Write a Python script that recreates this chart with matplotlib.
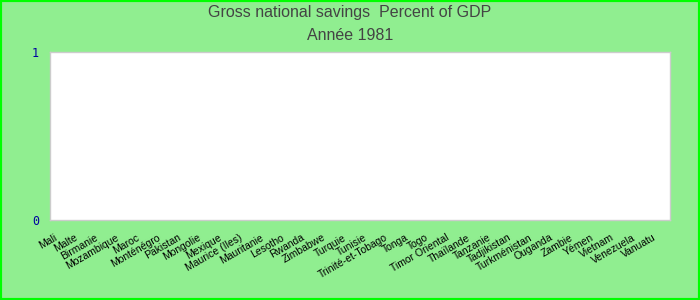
import numpy as np
import matplotlib
matplotlib.use("Agg")
import matplotlib.pyplot as plt
from matplotlib.transforms import ScaledTranslation

plt.rcParams['font.family'] = ['Liberation Sans', 'DejaVu Sans']

countries = ["Mali", "Malte", "Birmanie", "Mozambique", "Maroc", "Monténégro",
             "Pakistan", "Mongolie", "Mexique", "Maurice (Iles)", "Mauritanie",
             "Lesotho", "Rwanda", "Zimbabwe", "Turquie", "Tunisie",
             "Trinité-et-Tobago", "Tonga", "Togo", "Timor Oriental", "Thaïlande",
             "Tanzanie", "Tadjikistan", "Turkménistan", "Ouganda", "Zambie",
             "Yémen", "Vietnam", "Venezuela", "Vanuatu"]
# no values reported for 1981
savings = [None, None, None, None, None, None, None, None, None, None,
           None, None, None, None, None, None, None, None, None, None,
           None, None, None, None, None, None, None, None, None, None]
y_ticks = [0, 1]

vals = np.array([np.nan if v is None else v for v in savings], dtype=float)
x = np.arange(len(countries))

fig = plt.figure(figsize=(7, 3), dpi=100, facecolor="#90EE90")
ax = fig.add_axes([50 / 700, 1 - 220 / 300, 620 / 700, 168 / 300])
ax.set_facecolor("white")

ax.bar(x, vals, width=0.6, color="#4572A7")

ax.set_xlim(-0.5, len(countries) - 0.5)
ax.set_ylim(0, 1)
ax.set_yticks(y_ticks)
ax.set_yticklabels([str(t) for t in y_ticks], color="#0000A0", fontsize=8.5,
                   family=["DejaVu Sans Mono", "DejaVu Sans"])
ax.set_xticks(x)
ax.set_xticklabels(countries, rotation=30, ha="right", va="top",
                   rotation_mode="anchor", fontsize=7.5, color="black")
ax.tick_params(axis="both", length=0)
ax.tick_params(axis="x", pad=9)
ax.tick_params(axis="y", pad=8)

offset = ScaledTranslation(-7 / 100, 0, fig.dpi_scale_trans)
for lbl in ax.get_xticklabels():
    lbl.set_transform(lbl.get_transform() + offset)

for s in ax.spines.values():
    s.set_color("#cccccc")
    s.set_linewidth(1)

fig.text(0.5, 1 - 13 / 300, "Gross national savings  Percent of GDP",
         ha="center", va="center", fontsize=11.5, color="#444444")
fig.text(0.5, 1 - 35 / 300, "Année 1981",
         ha="center", va="center", fontsize=11.5, color="#444444")

# bright green frame around the figure
fig.patches.append(plt.Rectangle((0, 0), 1, 1, transform=fig.transFigure,
                                 fill=False, edgecolor="#00FF00", linewidth=3))

fig.savefig("out.png", dpi=100, facecolor=fig.get_facecolor())
